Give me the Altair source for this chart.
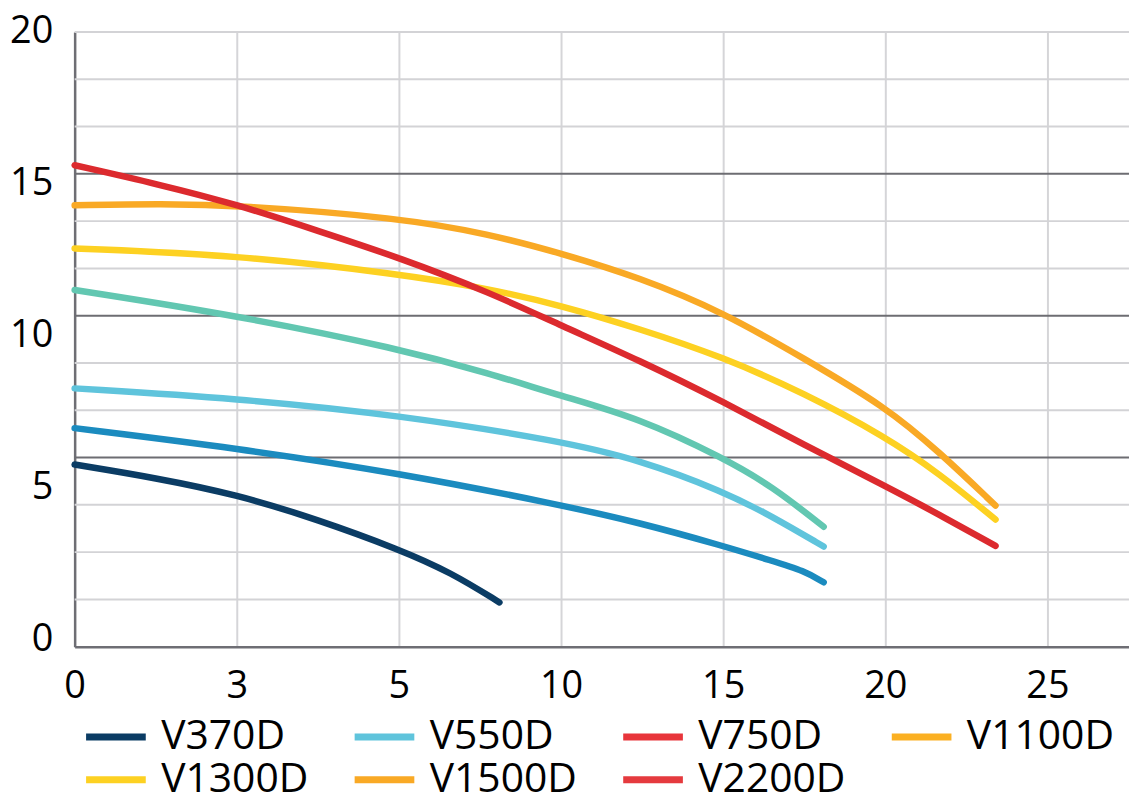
import altair as alt
import pandas as pd

# ---- data ----
series = ["V370D", "V550D", "V750D", "V1100D", "V1300D", "V1500D", "V2200D"]
curve_colors = ["#0b3c64", "#1b8bbf", "#5fc4dc", "#62c7b1", "#fdd122", "#f9a925", "#dc2a2e"]
legend_colors = ["#0b3c64", "#5fc4dc", "#e8353b", "#fbb022", "#fdd122", "#f9a925", "#e53a3e"]

x_ticks = [0, 3, 5, 10, 15, 20, 25]
y_ticks = [0, 5, 10, 15, 20]

v370_x = [0, 1.5, 3, 4, 5, 6.6, 8.1]
v370_y = [5.75, 5.31, 4.76, 3.94, 2.96, 2.20, 1.21]

v550_x = [0, 3, 5, 10, 12.4, 15, 16.5, 17.5, 18.1]
v550_y = [6.95, 6.29, 5.47, 4.42, 3.84, 3.07, 2.58, 2.25, 1.87]

v750_x = [0, 3, 5, 10, 12.4, 15, 16.5, 18.1]
v750_y = [8.26, 7.93, 7.38, 6.52, 5.91, 4.87, 4.05, 3.05]

v1100_x = [0, 3, 5, 7.8, 10, 12.4, 15, 16.5, 18.1]
v1100_y = [11.50, 10.66, 9.57, 8.75, 8.01, 7.28, 5.97, 5.04, 3.70]

v1300_x = [0, 3, 5, 7.8, 10, 12.4, 15, 17.5, 20, 21.65, 23.4]
v1300_y = [12.87, 12.65, 12.03, 11.54, 10.99, 10.23, 9.29, 8.10, 6.67, 5.47, 3.94]

v1500_x = [0, 1.56, 3, 5, 7.8, 10, 12.4, 15, 17.5, 20, 21.65, 23.4]
v1500_y = [14.29, 14.34, 14.30, 13.88, 13.34, 12.71, 11.92, 10.77, 9.24, 7.66, 6.18, 4.40]

v2200_x = [0, 1.56, 3, 4, 5, 7.8, 10, 12.4, 15, 17.5, 20, 21.65, 23.4]
v2200_y = [15.61, 14.98, 14.32, 13.45, 12.57, 11.42, 10.33, 9.19, 7.82, 6.40, 5.04, 4.11, 3.07]

xs = [v370_x, v550_x, v750_x, v1100_x, v1300_x, v1500_x, v2200_x]
ys = [v370_y, v550_y, v750_y, v1100_y, v1300_y, v1500_y, v2200_y]

rows = []
for name, xv, yv in zip(series, xs, ys):
    for a, b in zip(xv, yv):
        rows.append({"series": name, "flow": a, "head": b})
df = pd.DataFrame(rows)

# ---- layout ----
W = 1060
H = 618
FONT = "Open Sans"
step = 163
x_end = 25 + 5 * (W - 6 * step) / step
x_scale = alt.Scale(domain=x_ticks + [x_end],
                    range=[i * step for i in range(7)] + [W],
                    nice=False, zero=False)
y_min = -0.25
y_scale = alt.Scale(domain=[y_min, 20], nice=False, zero=False)

# horizontal grid: 13 equal bands, every third one darker
band = (20 - y_min) / 13
light_vals = [y_min + k * band for k in range(1, 14) if k not in (4, 7, 10)]
dark_vals = [y_min + k * band for k in (4, 7, 10)]

xaxis = alt.Axis(values=x_ticks, title=None, grid=True, gridColor="#d5d5d8", gridWidth=2,
                 ticks=False, labelFontSize=38, labelFont=FONT, labelColor="#000",
                 labelPadding=21, labelFlush=False, labelOverlap=False,
                 domainColor="#6e6e74", domainWidth=2.5)
yaxis = alt.Axis(values=y_ticks, title=None, grid=False, ticks=False, labelFontSize=38,
                 labelFont=FONT, labelColor="#000", labelPadding=22, labelOverlap=False,
                 domainColor="#6e6e74", domainWidth=2.5)

light = alt.Chart(pd.DataFrame({"g": light_vals})).mark_rule(
    color="#d3d3d6", strokeWidth=2).encode(y=alt.Y("g:Q", scale=y_scale, axis=yaxis))
dark = alt.Chart(pd.DataFrame({"g": dark_vals})).mark_rule(
    color="#6d6d72", strokeWidth=2).encode(y=alt.Y("g:Q", scale=y_scale, axis=yaxis))


def legend_row(names, colors, ly):
    return alt.Chart(df).transform_filter(
        alt.FieldOneOfPredicate(field="series", oneOf=names)
    ).mark_line(opacity=0, strokeWidth=7).encode(
        x=alt.X("flow:Q", scale=x_scale, axis=xaxis),
        y=alt.Y("head:Q", scale=y_scale, axis=yaxis),
        color=alt.Color("series:N",
                        scale=alt.Scale(domain=names, range=colors),
                        legend=alt.Legend(title=None, orient="none", legendX=8, legendY=ly,
                                          columns=4, direction="horizontal", gridAlign="all",
                                          symbolType="stroke", symbolSize=3600,
                                          symbolStrokeWidth=7, symbolOpacity=1,
                                          labelFontSize=41, labelFont=FONT, labelColor="#000",
                                          labelOffset=12, columnPadding=32,
                                          labelLimit=400, padding=0)),
    )


legend_a = legend_row(series[:4], legend_colors[:4], 675)
legend_b = legend_row(series[4:], legend_colors[4:], 718)

lines = alt.Chart(df).mark_line(strokeWidth=6.5, strokeCap="round", interpolate="basis").encode(
    x=alt.X("flow:Q", scale=x_scale, axis=xaxis),
    y=alt.Y("head:Q", scale=y_scale, axis=yaxis),
    color=alt.Color("series:N", scale=alt.Scale(domain=series, range=curve_colors), legend=None),
)

chart = alt.layer(light, dark, legend_a, legend_b, lines).resolve_scale(
    color="independent"
).properties(
    width=W, height=H,
    autosize=alt.AutoSizeParams(type="none"),
    padding={"left": 67, "top": 22, "right": 0, "bottom": 150},
).configure_view(stroke=None)

chart.save("out.html", embed_options={"renderer": "svg", "actions": False})
